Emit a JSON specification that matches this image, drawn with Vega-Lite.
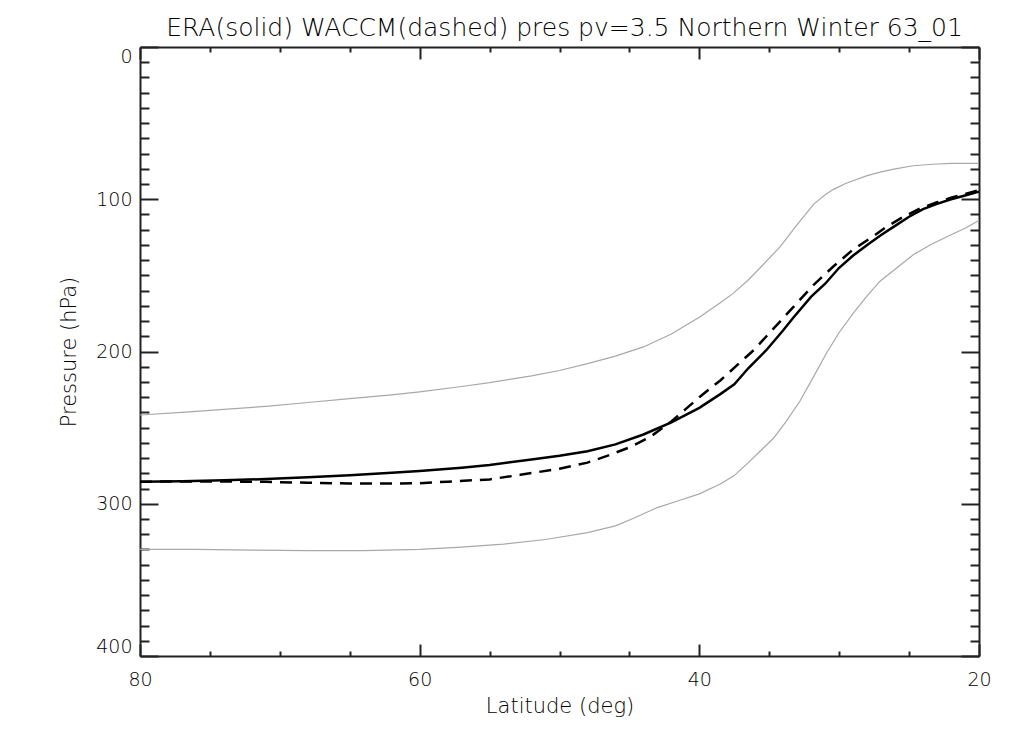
{
  "$schema": "https://vega.github.io/schema/vega-lite/v6.json",
  "autosize": {"type": "none"},
  "width": 839,
  "height": 609,
  "padding": {"left": 140, "top": 47, "right": 31, "bottom": 76},
  "background": "white",
  "title": {"text": "ERA(solid) WACCM(dashed) pres pv=3.5 Northern Winter 63_01", "font": "DejaVu Sans", "fontSize": 25, "fontWeight": 200, "color": "black", "anchor": "middle", "baseline": "alphabetic", "offset": 12, "dy": 27, "dx": 5},
  "config": {
    "view": {"stroke": null},
    "axis": {"labelFont": "DejaVu Sans", "titleFont": "DejaVu Sans", "labelFontWeight": 200, "labelColor": "black", "titleColor": "black", "titleFontWeight": 200, "domainColor": "#222", "tickColor": "#222", "domainWidth": 2, "tickWidth": 2, "grid": false}
  },
  "data": {"values": [
    {"lat": 80, "p": 285.5, "series": "ERA"}, {"lat": 77, "p": 285.2, "series": "ERA"}, {"lat": 74, "p": 284.6, "series": "ERA"}, {"lat": 71, "p": 283.8, "series": "ERA"}, {"lat": 68, "p": 282.6, "series": "ERA"}, {"lat": 65, "p": 281.3, "series": "ERA"}, {"lat": 62, "p": 279.6, "series": "ERA"}, {"lat": 60, "p": 278.5, "series": "ERA"}, {"lat": 57, "p": 276.3, "series": "ERA"}, {"lat": 55, "p": 274.5, "series": "ERA"}, {"lat": 52, "p": 271, "series": "ERA"}, {"lat": 50, "p": 268.5, "series": "ERA"}, {"lat": 48, "p": 265.5, "series": "ERA"}, {"lat": 46, "p": 261, "series": "ERA"}, {"lat": 44, "p": 254.5, "series": "ERA"}, {"lat": 42, "p": 246.5, "series": "ERA"}, {"lat": 40, "p": 237, "series": "ERA"}, {"lat": 38.5, "p": 228, "series": "ERA"}, {"lat": 37.5, "p": 221.5, "series": "ERA"}, {"lat": 36.5, "p": 211, "series": "ERA"}, {"lat": 35.2, "p": 199, "series": "ERA"}, {"lat": 34, "p": 186, "series": "ERA"}, {"lat": 33.3, "p": 178, "series": "ERA"}, {"lat": 32, "p": 164, "series": "ERA"}, {"lat": 31, "p": 155.5, "series": "ERA"}, {"lat": 30, "p": 145, "series": "ERA"}, {"lat": 29, "p": 137, "series": "ERA"}, {"lat": 28, "p": 130, "series": "ERA"}, {"lat": 27, "p": 123.5, "series": "ERA"}, {"lat": 26, "p": 117.5, "series": "ERA"}, {"lat": 25, "p": 111.5, "series": "ERA"}, {"lat": 24, "p": 106.5, "series": "ERA"}, {"lat": 23, "p": 103, "series": "ERA"}, {"lat": 22, "p": 100, "series": "ERA"}, {"lat": 21, "p": 97.5, "series": "ERA"}, {"lat": 20, "p": 95, "series": "ERA"},
    {"lat": 80, "p": 285.5, "series": "WACCM"}, {"lat": 77, "p": 285.4, "series": "WACCM"}, {"lat": 74, "p": 285.4, "series": "WACCM"}, {"lat": 71, "p": 285.6, "series": "WACCM"}, {"lat": 68, "p": 286.2, "series": "WACCM"}, {"lat": 65, "p": 286.7, "series": "WACCM"}, {"lat": 62, "p": 286.7, "series": "WACCM"}, {"lat": 60, "p": 286.5, "series": "WACCM"}, {"lat": 58, "p": 285.5, "series": "WACCM"}, {"lat": 55, "p": 284, "series": "WACCM"}, {"lat": 52.8, "p": 281, "series": "WACCM"}, {"lat": 50, "p": 277, "series": "WACCM"}, {"lat": 48, "p": 273, "series": "WACCM"}, {"lat": 46.6, "p": 268.6, "series": "WACCM"}, {"lat": 45, "p": 263, "series": "WACCM"}, {"lat": 43.5, "p": 256, "series": "WACCM"}, {"lat": 42, "p": 246, "series": "WACCM"}, {"lat": 41, "p": 238, "series": "WACCM"}, {"lat": 40, "p": 230, "series": "WACCM"}, {"lat": 38.5, "p": 219, "series": "WACCM"}, {"lat": 37, "p": 206.5, "series": "WACCM"}, {"lat": 36.1, "p": 199, "series": "WACCM"}, {"lat": 35, "p": 188, "series": "WACCM"}, {"lat": 33.7, "p": 175, "series": "WACCM"}, {"lat": 32.7, "p": 165, "series": "WACCM"}, {"lat": 31.8, "p": 156, "series": "WACCM"}, {"lat": 30.4, "p": 144, "series": "WACCM"}, {"lat": 29, "p": 133, "series": "WACCM"}, {"lat": 27.6, "p": 124.6, "series": "WACCM"}, {"lat": 26.6, "p": 118, "series": "WACCM"}, {"lat": 25.5, "p": 112, "series": "WACCM"}, {"lat": 24.2, "p": 106, "series": "WACCM"}, {"lat": 23, "p": 102, "series": "WACCM"}, {"lat": 22, "p": 99, "series": "WACCM"}, {"lat": 21, "p": 96.5, "series": "WACCM"}, {"lat": 20, "p": 94, "series": "WACCM"},
    {"lat": 80, "p": 241.7, "series": "upper"}, {"lat": 77, "p": 240, "series": "upper"}, {"lat": 74, "p": 238, "series": "upper"}, {"lat": 71, "p": 236, "series": "upper"}, {"lat": 68, "p": 233.5, "series": "upper"}, {"lat": 65, "p": 231, "series": "upper"}, {"lat": 62, "p": 228.5, "series": "upper"}, {"lat": 60, "p": 226.5, "series": "upper"}, {"lat": 57, "p": 223, "series": "upper"}, {"lat": 55, "p": 220.5, "series": "upper"}, {"lat": 52, "p": 216, "series": "upper"}, {"lat": 50, "p": 212.5, "series": "upper"}, {"lat": 48, "p": 208, "series": "upper"}, {"lat": 46, "p": 203, "series": "upper"}, {"lat": 44, "p": 197, "series": "upper"}, {"lat": 42, "p": 188.5, "series": "upper"}, {"lat": 40, "p": 177.5, "series": "upper"}, {"lat": 38.5, "p": 168, "series": "upper"}, {"lat": 37.6, "p": 162, "series": "upper"}, {"lat": 36.5, "p": 153, "series": "upper"}, {"lat": 35.65, "p": 145, "series": "upper"}, {"lat": 34.2, "p": 131, "series": "upper"}, {"lat": 33.2, "p": 119, "series": "upper"}, {"lat": 32.6, "p": 112, "series": "upper"}, {"lat": 31.8, "p": 103, "series": "upper"}, {"lat": 31, "p": 97, "series": "upper"}, {"lat": 30.4, "p": 93.5, "series": "upper"}, {"lat": 29.5, "p": 89.5, "series": "upper"}, {"lat": 28, "p": 84.5, "series": "upper"}, {"lat": 27, "p": 82, "series": "upper"}, {"lat": 26, "p": 80, "series": "upper"}, {"lat": 24.7, "p": 78, "series": "upper"}, {"lat": 23.3, "p": 77, "series": "upper"}, {"lat": 22, "p": 76.5, "series": "upper"}, {"lat": 20, "p": 76.5, "series": "upper"},
    {"lat": 80, "p": 330, "series": "lower"}, {"lat": 76, "p": 330, "series": "lower"}, {"lat": 72, "p": 330.5, "series": "lower"}, {"lat": 68, "p": 330.8, "series": "lower"}, {"lat": 64, "p": 330.8, "series": "lower"}, {"lat": 60, "p": 330, "series": "lower"}, {"lat": 57, "p": 328.5, "series": "lower"}, {"lat": 54, "p": 326.5, "series": "lower"}, {"lat": 51, "p": 323.5, "series": "lower"}, {"lat": 48, "p": 319, "series": "lower"}, {"lat": 46, "p": 314.5, "series": "lower"}, {"lat": 44.7, "p": 309.5, "series": "lower"}, {"lat": 43, "p": 302.5, "series": "lower"}, {"lat": 41.5, "p": 298, "series": "lower"}, {"lat": 40, "p": 293.5, "series": "lower"}, {"lat": 38.5, "p": 287, "series": "lower"}, {"lat": 37.5, "p": 281.5, "series": "lower"}, {"lat": 36.5, "p": 273, "series": "lower"}, {"lat": 35.6, "p": 265, "series": "lower"}, {"lat": 34.7, "p": 257, "series": "lower"}, {"lat": 33.8, "p": 246, "series": "lower"}, {"lat": 32.8, "p": 232.5, "series": "lower"}, {"lat": 31.8, "p": 216, "series": "lower"}, {"lat": 30.9, "p": 201, "series": "lower"}, {"lat": 30, "p": 187.5, "series": "lower"}, {"lat": 29, "p": 175, "series": "lower"}, {"lat": 28, "p": 163.5, "series": "lower"}, {"lat": 27.1, "p": 154, "series": "lower"}, {"lat": 26, "p": 146, "series": "lower"}, {"lat": 24.7, "p": 136.5, "series": "lower"}, {"lat": 23.5, "p": 130, "series": "lower"}, {"lat": 22.3, "p": 124.6, "series": "lower"}, {"lat": 21, "p": 119, "series": "lower"}, {"lat": 20, "p": 114, "series": "lower"}
  ]},
  "resolve": {"axis": {"x": "independent", "y": "independent"}},
  "layer": [
    {
      "transform": [{"filter": "datum.series === 'upper' || datum.series === 'lower'"}],
      "mark": {"type": "line", "color": "#a8a8a8", "strokeWidth": 1.2},
      "encoding": {
        "x": {"field": "lat", "type": "quantitative", "scale": {"domain": [20, 80], "reverse": true, "nice": false, "zero": false},
              "axis": {"orient": "bottom", "title": "Latitude (deg)", "titleFontSize": 21, "titlePadding": 6, "values": [80, 60, 40, 20], "ticks": false, "tickSize": 0, "labelPadding": 14, "labelFontSize": 19, "labelFlush": false, "domain": true}},
        "y": {"field": "p", "type": "quantitative", "scale": {"domain": [0, 400], "reverse": true, "nice": false, "zero": false},
              "axis": {"orient": "left", "title": "Pressure (hPa)", "titleFontSize": 21, "titlePadding": 16, "values": [0, 100, 200, 300, 400], "ticks": false, "tickSize": 0, "labelPadding": 8, "labelFontSize": 19, "labelFlush": true, "domain": true}},
        "detail": {"field": "series"}
      }
    },
    {
      "transform": [{"filter": "datum.series === 'ERA'"}],
      "mark": {"type": "line", "color": "black", "strokeWidth": 2.5},
      "encoding": {
        "x": {"field": "lat", "type": "quantitative",
              "axis": {"orient": "bottom", "title": null, "labels": false, "domain": false, "values": [20, 25, 30, 35, 40, 45, 50, 55, 60, 65, 70, 75, 80], "tickSize": {"condition": {"test": "datum.value % 20 === 0", "value": -12}, "value": -5}}},
        "y": {"field": "p", "type": "quantitative",
              "axis": {"orient": "left", "title": null, "labels": false, "domain": false, "values": [0, 10, 20, 30, 40, 50, 60, 70, 80, 90, 100, 110, 120, 130, 140, 150, 160, 170, 180, 190, 200, 210, 220, 230, 240, 250, 260, 270, 280, 290, 300, 310, 320, 330, 340, 350, 360, 370, 380, 390, 400], "tickSize": {"condition": {"test": "datum.value % 100 === 0", "value": -18}, "value": -9}}}
      }
    },
    {
      "transform": [{"filter": "datum.series === 'WACCM'"}],
      "mark": {"type": "line", "color": "black", "strokeWidth": 2.5, "strokeDash": [12, 8]},
      "encoding": {
        "x": {"field": "lat", "type": "quantitative",
              "axis": {"orient": "top", "title": null, "labels": false, "domain": true, "values": [20, 25, 30, 35, 40, 45, 50, 55, 60, 65, 70, 75, 80], "tickSize": {"condition": {"test": "datum.value % 20 === 0", "value": -12}, "value": -5}}},
        "y": {"field": "p", "type": "quantitative",
              "axis": {"orient": "right", "title": null, "labels": false, "domain": true, "values": [0, 10, 20, 30, 40, 50, 60, 70, 80, 90, 100, 110, 120, 130, 140, 150, 160, 170, 180, 190, 200, 210, 220, 230, 240, 250, 260, 270, 280, 290, 300, 310, 320, 330, 340, 350, 360, 370, 380, 390, 400], "tickSize": {"condition": {"test": "datum.value % 100 === 0", "value": -18}, "value": -9}}}
      }
    }
  ]
}
